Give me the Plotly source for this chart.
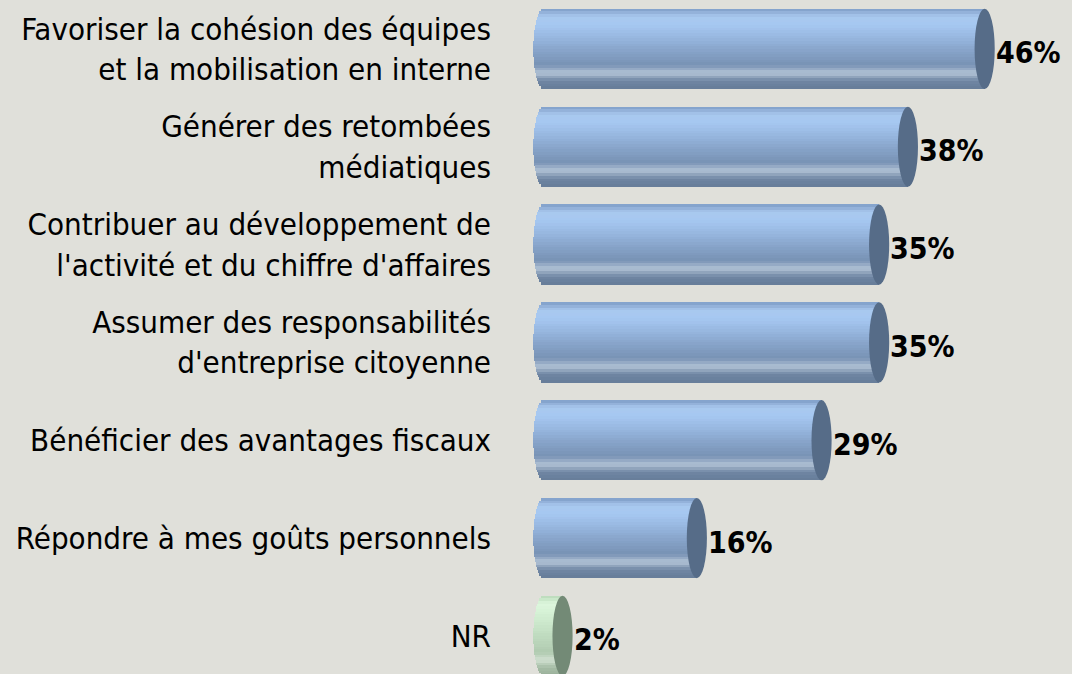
import numpy as np
import plotly.graph_objects as go

categories = [
    "Favoriser la cohésion des équipes<br>et la mobilisation en interne",
    "Générer des retombées<br>médiatiques",
    "Contribuer au développement de<br>l'activité et du chiffre d'affaires",
    "Assumer des responsabilités<br>d'entreprise citoyenne",
    "Bénéficier des avantages fiscaux",
    "Répondre à mes goûts personnels",
    "NR",
]
values = [46, 38, 35, 35, 29, 16, 2]
value_labels = ["46%", "38%", "35%", "35%", "29%", "16%", "2%"]
is_nr = [False, False, False, False, False, False, True]

BG = "#E0E0DA"
FONT = "DejaVu Sans Condensed"

# gradient stops (top -> bottom) for cylinder body
blue_stops = ["#7E9CC6", "#A9C9EF", "#A6C8F1", "#9DBDE6", "#93B2DA", "#89A6CC",
              "#809CC0", "#7892B4", "#B2C3D6", "#6F86A3", "#667C98"]
green_stops = ["#B8D8B8", "#DDF7DD", "#D6F2D6", "#CFEBCF", "#C7E3C7", "#BFDBBF",
               "#B8D3B8", "#B0CAB0", "#D0E0D0", "#A5BCA5", "#9AB09A"]
blue_cap = "#566C88"
green_cap = "#738A76"


def hex2rgb(h):
    h = h.lstrip("#")
    return np.array([int(h[i:i + 2], 16) for i in (0, 2, 4)], dtype=float)


def sample(stops, t):
    pos = t * (len(stops) - 1)
    i = int(np.floor(pos))
    i = min(i, len(stops) - 2)
    f = pos - i
    c = hex2rgb(stops[i]) * (1 - f) + hex2rgb(stops[i + 1]) * f
    return "rgb(%d,%d,%d)" % tuple(np.round(c))


ypos = list(range(len(categories)))
H = 0.82      # bar thickness (category units)
R = 1.05      # ellipse half-width (value units)
N = 30        # strips

fig = go.Figure()
for k in range(N):
    t = (k + 0.5) / N
    u = 2 * t - 1
    base = -R * np.sqrt(max(0.0, 1 - u * u))
    colors = [sample(green_stops if g else blue_stops, t) for g in is_nr]
    fig.add_trace(go.Bar(
        orientation="h",
        y=ypos,
        x=[v - base for v in values],
        base=base,
        width=H / N * 1.02,
        offset=-H / 2 + k * H / N,
        marker=dict(color=colors, line=dict(width=0)),
        showlegend=False,
        hoverinfo="skip",
    ))

for i, (v, g) in enumerate(zip(values, is_nr)):
    fig.add_shape(type="circle", xref="x", yref="y",
                  x0=v - R, x1=v + R, y0=i - H / 2, y1=i + H / 2,
                  fillcolor=green_cap if g else blue_cap,
                  line=dict(width=0), layer="above")
    fig.add_annotation(x=v, y=i, text="<b>%s</b>" % value_labels[i],
                       xref="x", yref="y", xanchor="left", yanchor="middle",
                       xshift=9, yshift=-4, showarrow=False,
                       font=dict(family=FONT, size=30, color="#000000"))

fig.update_layout(
    width=1072, height=674,
    margin=dict(l=528, r=1, t=0, b=0),
    paper_bgcolor=BG, plot_bgcolor=BG,
    barmode="overlay",
    bargap=0,
    hovermode=False,
    xaxis=dict(range=[-1.6, 55], visible=False, fixedrange=True),
    yaxis=dict(range=[6.39, -0.5], tickmode="array", tickvals=ypos,
               ticktext=categories, showgrid=False, zeroline=False,
               showline=False, ticks="", ticklabelstandoff=36, fixedrange=True,
               tickfont=dict(family=FONT, size=31, color="#000000")),
    font=dict(family=FONT),
)

fig.write_html("out.html",
               config={"displayModeBar": False, "staticPlot": True},
               post_script="document.body.style.margin='0';document.body.style.padding='0';"
                           "document.body.style.overflow='hidden';"
                           "document.body.style.background='" + BG + "';")
